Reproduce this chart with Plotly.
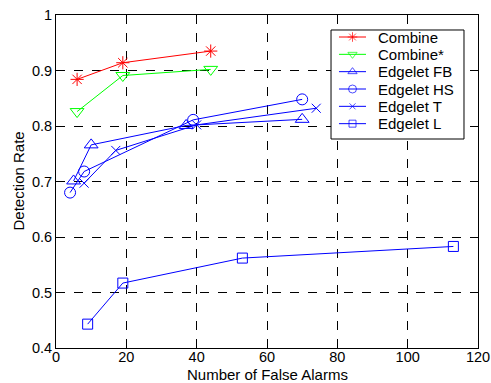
import plotly.graph_objects as go

series_names = ["Combine", "Combine*", "Edgelet FB", "Edgelet HS", "Edgelet T", "Edgelet L"]

combine_x = [6, 19, 44]
combine_y = [0.884, 0.914, 0.935]

combine_star_x = [6, 19, 44]
combine_star_y = [0.826, 0.891, 0.902]

fb_x = [5, 10, 37, 70]
fb_y = [0.701, 0.766, 0.801, 0.812]

hs_x = [4, 8, 39, 70]
hs_y = [0.680, 0.718, 0.811, 0.848]

t_x = [8, 17, 40, 74]
t_y = [0.697, 0.756, 0.802, 0.832]

l_x = [9, 19, 53, 113]
l_y = [0.443, 0.517, 0.562, 0.583]

x_ticks = [0, 20, 40, 60, 80, 100, 120]
y_ticks = [0.4, 0.5, 0.6, 0.7, 0.8, 0.9, 1.0]
y_tick_labels = ["0.4", "0.5", "0.6", "0.7", "0.8", "0.9", "1"]

xs = [combine_x, combine_star_x, fb_x, hs_x, t_x, l_x]
ys = [combine_y, combine_star_y, fb_y, hs_y, t_y, l_y]
colors = ["#ff0000", "#00ff00", "#0000ff", "#0000ff", "#0000ff", "#0000ff"]
symbols = ["asterisk-open", "triangle-down-open", "triangle-up-open", "circle-open", "x-thin-open", "square-open"]
sizes = [11, 12, 12, 11, 9, 10]
legend_sizes = [8, 8, 8, 8, 6, 7]

FONT = "Liberation Sans, Arial, sans-serif"

fig = go.Figure()
for name, x, y, c, s, sz in zip(series_names, xs, ys, colors, symbols, sizes):
    fig.add_trace(go.Scatter(
        x=x, y=y, name=name, mode="lines+markers", showlegend=False,
        line=dict(color=c, width=1),
        marker=dict(symbol=s, size=sz, color=c, line=dict(color=c, width=1)),
    ))

# --- legend drawn in an overlay frame (0..1 over the plot area) ---
lx0, lx1, ly0, ly1 = 0.6517, 0.9668, 0.6276, 0.955
fig.add_trace(go.Scatter(
    x=[lx0, lx1, lx1, lx0, lx0], y=[ly0, ly0, ly1, ly1, ly0],
    xaxis="x2", yaxis="y2", mode="lines", fill="toself", fillcolor="white",
    line=dict(color="black", width=1), showlegend=False, hoverinfo="skip",
))
row_top = 0.9339
row_step = 17.33 / 333
seg_x0, seg_x1 = 0.6706, 0.7346
txt_x = 0.7583
for i, (name, c, s, sz) in enumerate(zip(series_names, colors, symbols, legend_sizes)):
    yy = row_top - i * row_step
    fig.add_trace(go.Scatter(
        x=[seg_x0, (seg_x0 + seg_x1) / 2, seg_x1], y=[yy, yy, yy],
        xaxis="x2", yaxis="y2", mode="lines+markers", showlegend=False, hoverinfo="skip",
        line=dict(color=c, width=1),
        marker=dict(symbol=s, size=[0, sz, 0], color=c, line=dict(color=c, width=1)),
    ))
    fig.add_annotation(
        x=txt_x, y=yy, xref="x2", yref="y2", text=name, showarrow=False,
        xanchor="left", yanchor="middle", font=dict(family=FONT, size=15, color="black"),
    )

# axis titles
fig.add_annotation(
    x=0.5, y=-0.081, xref="paper", yref="paper", text="Number of False Alarms",
    showarrow=False, xanchor="center", yanchor="middle",
    font=dict(family=FONT, size=15, color="black"),
)
fig.add_annotation(
    x=-0.09, y=0.5, xref="paper", yref="paper", text="Detection Rate", textangle=-90,
    showarrow=False, xanchor="center", yanchor="middle",
    font=dict(family=FONT, size=15, color="black"),
)

axis_common = dict(
    showline=True, linecolor="black", linewidth=1, mirror="ticks",
    ticks="inside", ticklen=5, tickcolor="black",
    showgrid=True, gridcolor="black", gridwidth=1, griddash="dash",
    zeroline=False, tickfont=dict(size=14.5, color="black"),
    automargin=False,
)

fig.update_layout(
    width=491, height=383,
    margin=dict(l=56, r=13, t=15, b=35),
    paper_bgcolor="white", plot_bgcolor="white",
    font=dict(family=FONT, size=15, color="black"),
    showlegend=False,
    xaxis=dict(range=[0, 120], tickvals=x_ticks, **axis_common),
    yaxis=dict(range=[0.4, 1.0], tickvals=y_ticks, ticktext=y_tick_labels, **axis_common),
    xaxis2=dict(overlaying="x", range=[0, 1], visible=False, fixedrange=True),
    yaxis2=dict(overlaying="y", range=[0, 1], visible=False, fixedrange=True),
)

try:
    fig.update_layout(xaxis_ticklabelstandoff=-4)
except Exception:
    pass

fig.write_html(
    "out.html",
    config={"displayModeBar": False},
    post_script="document.body.style.margin='0';document.body.style.padding='0';",
)
